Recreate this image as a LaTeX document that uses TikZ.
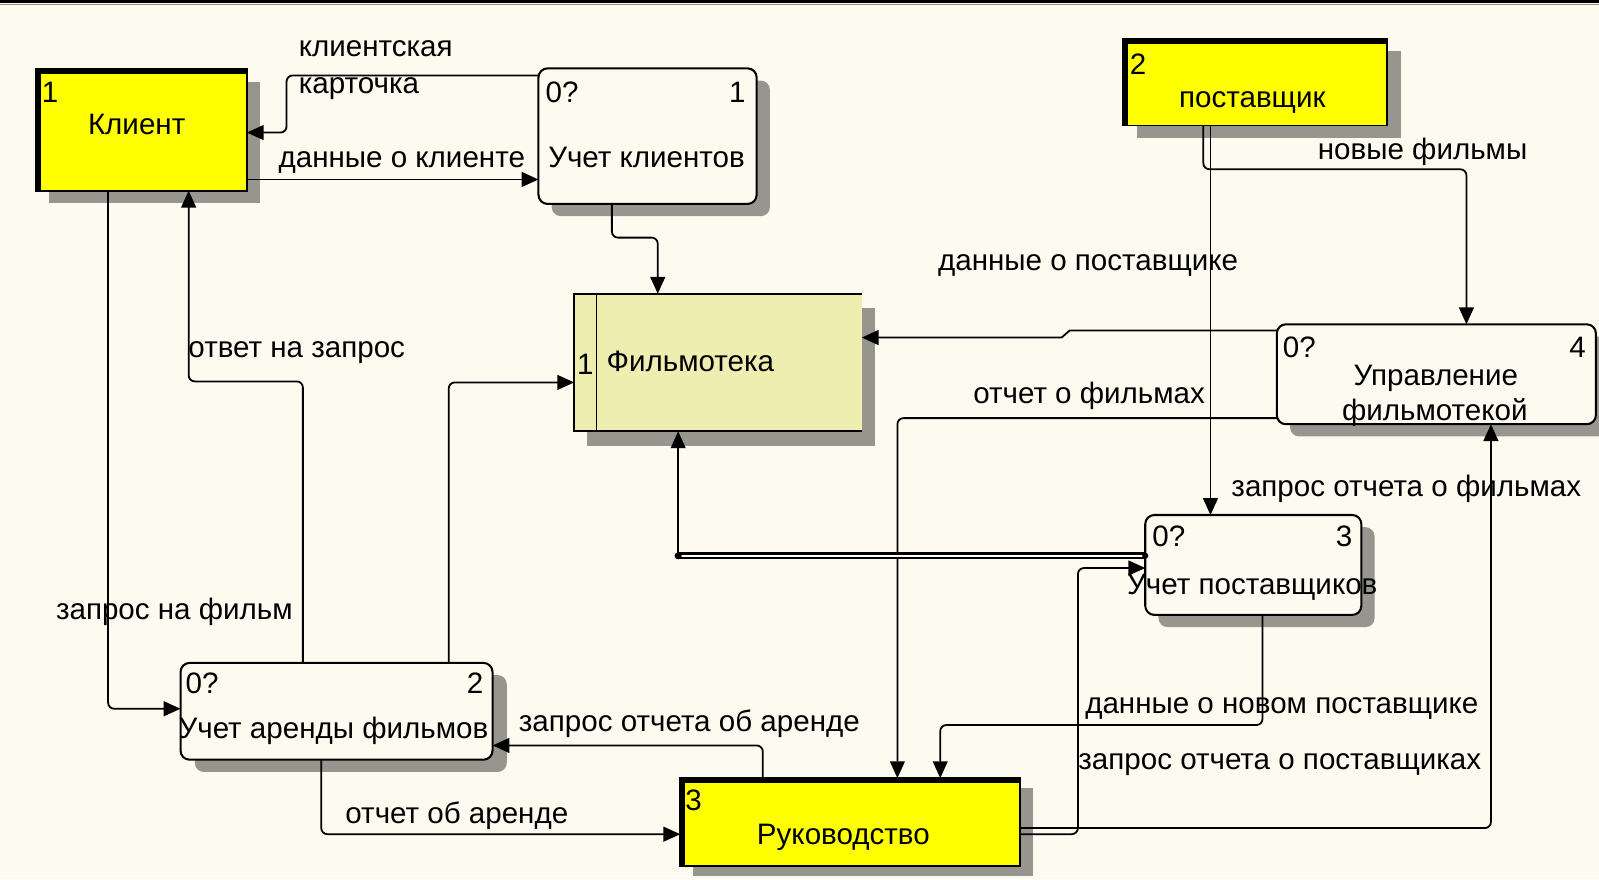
\documentclass[tikz,border=0pt]{standalone}
\usepackage{fontspec}
\setmainfont{Liberation Sans}
\usetikzlibrary{arrows.meta,backgrounds}
\definecolor{bg}{RGB}{253,251,240}
\definecolor{entyellow}{RGB}{255,255,0}
\definecolor{storefill}{RGB}{238,238,176}
\definecolor{shadowgray}{RGB}{150,149,142}
\tikzset{
  ext/.style={draw,line width=0.035cm,fill=entyellow,inner sep=0,outer sep=0},
  proc/.style={draw,line width=0.04cm,fill=bg,rounded corners=0.18cm,inner sep=0,outer sep=0},
  store/.style={fill=storefill,inner sep=0,outer sep=0},
  lbl/.style={inner sep=0,outer sep=0,text height=1ex,text depth=0pt,yshift=-0.1cm},
  flow/.style={line width=0.035cm,rounded corners=0.12cm,-{Triangle[length=0.33cm,width=0.29cm]}},
  hatchshadow/.style={fill=shadowgray},
  thickedge/.style={line width=0.1cm},
  outline/.style={line width=0.035cm}
}
\begin{document}
\begin{tikzpicture}[x=0.02cm,y=-0.02cm,font=\fontsize{16.5}{20}\selectfont]
\useasboundingbox (0,0) rectangle (1568,862);

% ---- boxes ----
\node[ext,minimum width=4.14cm,minimum height=2.38cm] (klient) at (138.5,127.5) {};
\node[proc,minimum width=4.28cm,minimum height=2.66cm] (uk) at (635,133.5) {};
\node[ext,minimum width=5.18cm,minimum height=1.70cm] (post) at (1230.5,80.5) {};
\node[store,minimum width=5.64cm,minimum height=2.70cm] (film) at (704,355.5) {};
\node[proc,minimum width=6.26cm,minimum height=1.96cm] (upr) at (1408.5,367) {};
\node[proc,minimum width=4.24cm,minimum height=1.96cm] (up) at (1229,554) {};
\node[proc,minimum width=6.12cm,minimum height=1.90cm] (ua) at (330,697.5) {};
\node[ext,minimum width=6.66cm,minimum height=1.72cm] (ruk) at (833.5,806) {};

% background and shadows
\begin{scope}[on background layer]
  \fill[bg] (0,0) rectangle (1568,862);
  \draw[line width=0.06cm] (0,1.5) -- (1568,1.5);
  \draw[line width=0.02cm,black!45] (0,4) -- (1568,4);
  \fill[hatchshadow] ([shift={(13,12)}]klient.south west) rectangle ([shift={(13,12)}]klient.north east);
  \fill[hatchshadow] ([shift={(14,12)}]post.south west) rectangle ([shift={(14,12)}]post.north east);
  \fill[hatchshadow] ([shift={(13,10)}]ruk.south west) rectangle ([shift={(13,10)}]ruk.north east);
  \fill[hatchshadow] ([shift={(13,14)}]film.south west) rectangle ([shift={(13,14)}]film.north east);
  \fill[hatchshadow,rounded corners=0.18cm] ([shift={(13,12)}]uk.south west) rectangle ([shift={(13,12)}]uk.north east);
  \fill[hatchshadow,rounded corners=0.18cm] ([shift={(13,12)}]upr.south west) rectangle ([shift={(13,12)}]upr.north east);
  \fill[hatchshadow,rounded corners=0.18cm] ([shift={(13,12)}]up.south west) rectangle ([shift={(13,12)}]up.north east);
  \fill[hatchshadow,rounded corners=0.18cm] ([shift={(14,12)}]ua.south west) rectangle ([shift={(14,12)}]ua.north east);
\end{scope}

% thick edges of external entities
\draw[thickedge] ([xshift=0.05cm]klient.south west) |- ([yshift=-0.05cm]klient.north east);
\draw[thickedge] ([xshift=0.05cm]post.south west) |- ([yshift=-0.05cm]post.north east);
\draw[thickedge] ([xshift=0.05cm]ruk.south west) |- ([yshift=-0.05cm]ruk.north east);

% data store outline
\draw[outline] (film.north east) -- (film.north west) -- (film.south west) -- (film.south east);
\draw[outline] (585,0 |- film.north) -- (585,0 |- film.south);

% ---- texts in boxes ----
\node[lbl,anchor=west] (klientN) at (41,91) {1};
\node[lbl] (klientT) at (134,122) {Клиент};
\node[lbl,anchor=west] (ukN) at (535,91) {0?};
\node[lbl,anchor=east] (ukM) at (731,91) {1};
\node[lbl] (ukT) at (634,155) {Учет клиентов};
\node[lbl,anchor=west] (postN) at (1108,63) {2};
\node[lbl] (postT) at (1228,96) {поставщик};
\node[lbl] (filmN) at (574,358) {1};
\node[lbl] (filmT) at (677,355) {Фильмотека};
\node[lbl,anchor=west] (uprN) at (1258,341) {0?};
\node[lbl,anchor=east] (uprM) at (1555,341) {4};
\node[lbl] (uprT1) at (1408,368) {Управление};
\node[lbl] (uprT2) at (1407,403) {фильмотекой};
\node[lbl,anchor=west] (upN) at (1130,526) {0?};
\node[lbl,anchor=east] (upM) at (1326,526) {3};
\node[lbl] (upT) at (1228,573) {Учет поставщиков};
\node[lbl,anchor=west] (uaN) at (182,670) {0?};
\node[lbl,anchor=east] (uaM) at (474,670) {2};
\node[lbl] (uaT) at (327,715) {Учет аренды фильмов};
\node[lbl,anchor=west] (rukN) at (672,785) {3};
\node[lbl] (rukT) at (827,818) {Руководство};

% ---- connectors ----
% клиентская карточка
\draw[flow] (uk.west |- 0,74) -- (281,74) -- (281,130) -- (klient.east |- 0,130);
% данные о клиенте
\draw[flow] (klient.east |- 0,176) -- (uk.west |- 0,176);
% Учет клиентов -> Фильмотека
\draw[flow] (600,0 |- uk.south) -- (600,233) -- (645,233) -- (645,0 |- film.north);
% данные о поставщике
\draw[flow] (1187,0 |- post.south) -- (1187,0 |- up.north);
% новые фильмы
\draw[flow] (1180,0 |- post.south) -- (1180,166) -- (1438,166) -- (1438,0 |- upr.north);
% Управление -> Фильмотека
\draw[flow,rounded corners=0pt] (upr.west |- 0,324) -- (1049,324) -- (1041,331) -- (film.east |- 0,331);
% отчет о фильмах
\draw[flow] (upr.west |- 0,410) -- (880,410) -- (880,0 |- ruk.north);
% запрос отчета о фильмах
\draw[flow] (ruk.east |- 0,812) -- (1462,812) -- (1462,0 |- upr.south);
% запрос отчета о поставщиках
\draw[flow] (ruk.east |- 0,818) -- (1057,818) -- (1057,557) -- (up.west |- 0,557);
% данные о новом поставщике
\draw[flow] (1238,0 |- up.south) -- (1238,711) -- (922,711) -- (922,0 |- ruk.north);
% Учет поставщиков -> Фильмотека (double line)
\coordinate (dj) at (665,545);
\draw[line width=0.05cm,double=white,double distance=0.03cm] (up.west |- dj) -- (dj);
\fill (dj) circle (0.07cm);
\fill (up.west |- dj) circle (0.06cm);
\draw[flow] (dj) -- (dj |- film.south);
% запрос на фильм
\draw[flow] (106,0 |- klient.south) -- (106,695) -- (ua.west |- 0,695);
% ответ на запрос
\draw[flow] (297,0 |- ua.north) -- (297,374) -- (185,374) -- (185,0 |- klient.south);
% Учет аренды -> Фильмотека
\draw[flow] (440,0 |- ua.north) -- (440,375) -- (film.west |- 0,375);
% запрос отчета об аренде
\draw[flow] (748,0 |- ruk.north) -- (748,731) -- (ua.east |- 0,731);
% отчет об аренде
\draw[flow] (315,0 |- ua.south) -- (315,818) -- (ruk.west |- 0,818);

% ---- connector labels ----
\node[lbl,anchor=west] (l1a) at (293,46) {клиентская};
\node[lbl,anchor=west] (l1b) at (293,82) {карточка};
\node[lbl] (l2) at (394,155) {данные о клиенте};
\node[lbl] (l3) at (1395,147) {новые фильмы};
\node[lbl] (l4) at (1067,256) {данные о поставщике};
\node[lbl] (l5) at (291,341) {ответ на запрос};
\node[lbl] (l6) at (1068,386) {отчет о фильмах};
\node[lbl] (l7) at (1379,477) {запрос отчета о фильмах};
\node[lbl] (l8) at (171,598) {запрос на фильм};
\node[lbl] (l9) at (676,708) {запрос отчета об аренде};
\node[lbl] (l10) at (1257,690) {данные о новом поставщике};
\node[lbl] (l11) at (1255,745) {запрос отчета о поставщиках};
\node[lbl] (l12) at (448,798) {отчет об аренде};
\end{tikzpicture}
\end{document}
